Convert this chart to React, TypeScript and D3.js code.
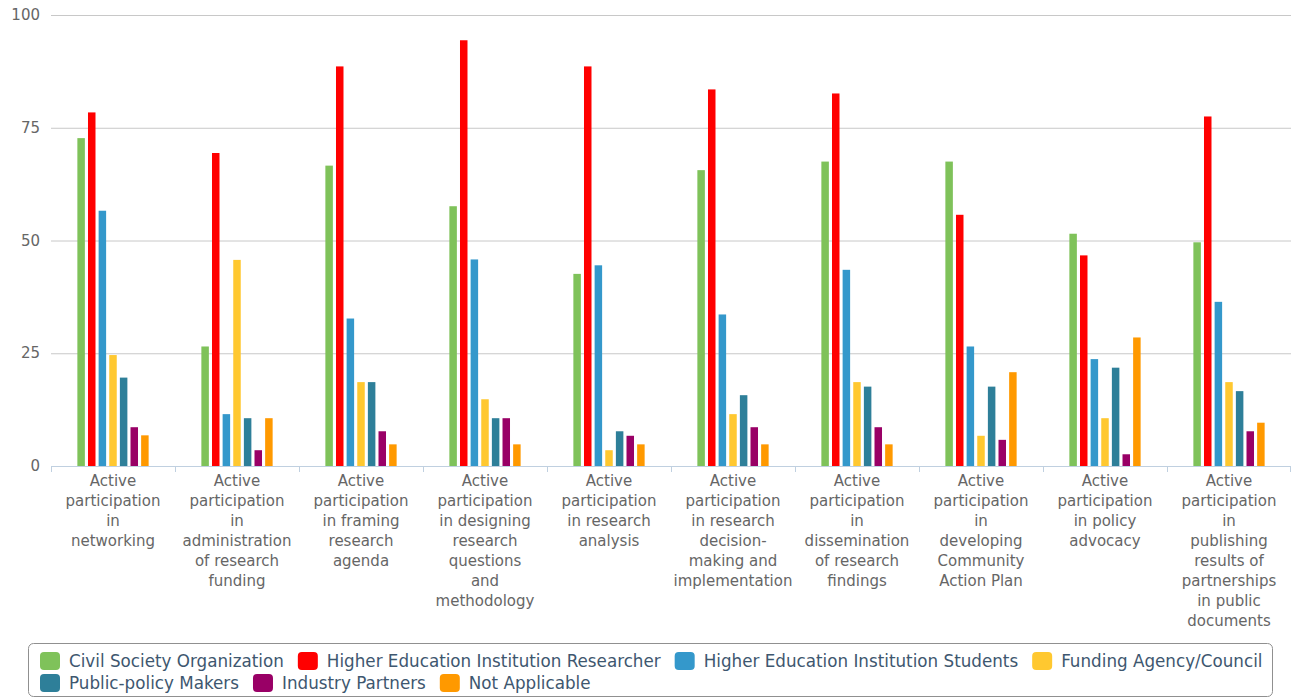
import React from "react";
import * as d3 from "d3";

const categories: string[] = [
  "Active\nparticipation\nin\nnetworking",
  "Active\nparticipation\nin\nadministration\nof research\nfunding",
  "Active\nparticipation\nin framing\nresearch\nagenda",
  "Active\nparticipation\nin designing\nresearch\nquestions\nand\nmethodology",
  "Active\nparticipation\nin research\nanalysis",
  "Active\nparticipation\nin research\ndecision-\nmaking and\nimplementation",
  "Active\nparticipation\nin\ndissemination\nof research\nfindings",
  "Active\nparticipation\nin\ndeveloping\nCommunity\nAction Plan",
  "Active\nparticipation\nin policy\nadvocacy",
  "Active\nparticipation\nin\npublishing\nresults of\npartnerships\nin public\ndocuments",
];

const seriesNames: string[] = [
  "Civil Society Organization",
  "Higher Education Institution Researcher",
  "Higher Education Institution Students",
  "Funding Agency/Council",
  "Public-policy Makers",
  "Industry Partners",
  "Not Applicable",
];

const civilSociety = [72.7, 26.5, 66.6, 57.6, 42.6, 65.6, 67.5, 67.5, 51.5, 49.6];
const heiResearcher = [78.4, 69.4, 88.6, 94.4, 88.6, 83.5, 82.6, 55.7, 46.7, 77.5];
const heiStudents = [56.6, 11.5, 32.7, 45.8, 44.5, 33.6, 43.5, 26.5, 23.7, 36.4];
const fundingAgency = [24.6, 45.7, 18.6, 14.8, 3.5, 11.5, 18.6, 6.7, 10.6, 18.6];
const policyMakers = [19.6, 10.6, 18.6, 10.6, 7.7, 15.7, 17.6, 17.6, 21.8, 16.6];
const industryPartners = [8.6, 3.5, 7.7, 10.6, 6.7, 8.6, 8.6, 5.8, 2.6, 7.7];
const notApplicable = [6.8, 10.6, 4.8, 4.8, 4.8, 4.8, 4.8, 20.8, 28.5, 9.6];

const seriesValues = [
  civilSociety,
  heiResearcher,
  heiStudents,
  fundingAgency,
  policyMakers,
  industryPartners,
  notApplicable,
];

const colors = ["#7FC25A", "#FF0000", "#3498CB", "#FFC830", "#2E7F99", "#990066", "#FF9900"];
const yTicks = [0, 25, 50, 75, 100];

const W = 1294;
const H = 698;
const FONT = "'DejaVu Sans', Verdana, sans-serif";

export default function App() {
  const plotLeft = 51;
  const plotRight = 1291;
  const plotTop = 15;
  const plotBottom = 466;

  const x0 = d3
    .scaleBand<number>()
    .domain(categories.map((_, i) => i))
    .range([plotLeft, plotRight])
    .padding(0);
  const bw = x0.bandwidth();
  const x1 = d3
    .scaleBand<number>()
    .domain(seriesNames.map((_, i) => i))
    .range([bw * 0.2, bw * 0.8])
    .paddingInner(0.2)
    .paddingOuter(0.1);
  const y = d3.scaleLinear().domain([0, 100]).range([plotBottom, plotTop]);

  // Legend layout
  const legendFontSize = 16.75;
  const ctx = typeof document !== "undefined" ? document.createElement("canvas").getContext("2d") : null;
  if (ctx) ctx.font = `${legendFontSize}px ${FONT}`;
  const measure = (s: string) => (ctx ? ctx.measureText(s).width : s.length * 8);
  const legendLeft = 40;
  const legendMaxRight = 1268;
  const rows = [661, 683];
  const items: { x: number; y: number; name: string; color: string }[] = [];
  let cx = legendLeft;
  let row = 0;
  seriesNames.forEach((name, i) => {
    const w = 29 + measure(name);
    if (cx + w > legendMaxRight && cx > legendLeft) {
      row += 1;
      cx = legendLeft;
    }
    items.push({ x: cx, y: rows[row] ?? rows[0] + row * 22, name, color: colors[i] });
    cx += w + 14;
  });

  return (
    <svg
      width={W}
      height={H}
      style={{ position: "absolute", left: 0, top: 0, background: "#fff" }}
      fontFamily={FONT}
    >
      {/* grid */}
      {yTicks.map((t) =>
        t === 0 ? null : (
          <line key={"g" + t} x1={plotLeft} x2={plotRight} y1={y(t) + 0.5} y2={y(t) + 0.5} stroke="#C8C8C8" strokeWidth={1} />
        )
      )}
      {/* y labels */}
      {yTicks.map((t) => (
        <text key={"yl" + t} x={40} y={y(t) + 5} textAnchor="end" fontSize={15} fill="#666">
          {t}
        </text>
      ))}
      {/* bars */}
      {seriesValues.map((vals, si) =>
        vals.map((v, ci) => (
          <rect
            key={`b${si}-${ci}`}
            x={(x0(ci) as number) + (x1(si) as number) + 0.5}
            y={y(v)}
            width={x1.bandwidth() - 1}
            height={plotBottom - y(v)}
            fill={colors[si]}
          />
        ))
      )}
      {/* x axis */}
      <line x1={plotLeft} x2={plotRight} y1={plotBottom + 0.5} y2={plotBottom + 0.5} stroke="#C0D0E0" strokeWidth={1} />
      {categories.map((_, i) => (
        <line
          key={"tk" + i}
          x1={(x0(i) as number) + 0.5}
          x2={(x0(i) as number) + 0.5}
          y1={plotBottom}
          y2={plotBottom + 6}
          stroke="#C0D0E0"
          strokeWidth={1}
        />
      ))}
      <line x1={plotRight - 0.5} x2={plotRight - 0.5} y1={plotBottom} y2={plotBottom + 6} stroke="#C0D0E0" strokeWidth={1} />
      {categories.map((c, i) => (
        <text key={"xl" + i} textAnchor="middle" fontSize={15} fill="#666">
          {c.split("\n").map((line, li) => (
            <tspan key={li} x={(x0(i) as number) + bw / 2} y={486 + li * 20}>
              {line}
            </tspan>
          ))}
        </text>
      ))}
      {/* legend */}
      <rect x={28.5} y={643.5} width={1244} height={53} rx={5} ry={5} fill="none" stroke="#909090" strokeWidth={1} />
      {items.map((it, i) => (
        <g key={"lg" + i}>
          <rect x={it.x} y={it.y - 9} width={20} height={18} rx={4} ry={4} fill={it.color} />
          <text x={it.x + 29} y={it.y + 6} fontSize={legendFontSize} fill="#3E576F">
            {it.name}
          </text>
        </g>
      ))}
    </svg>
  );
}
